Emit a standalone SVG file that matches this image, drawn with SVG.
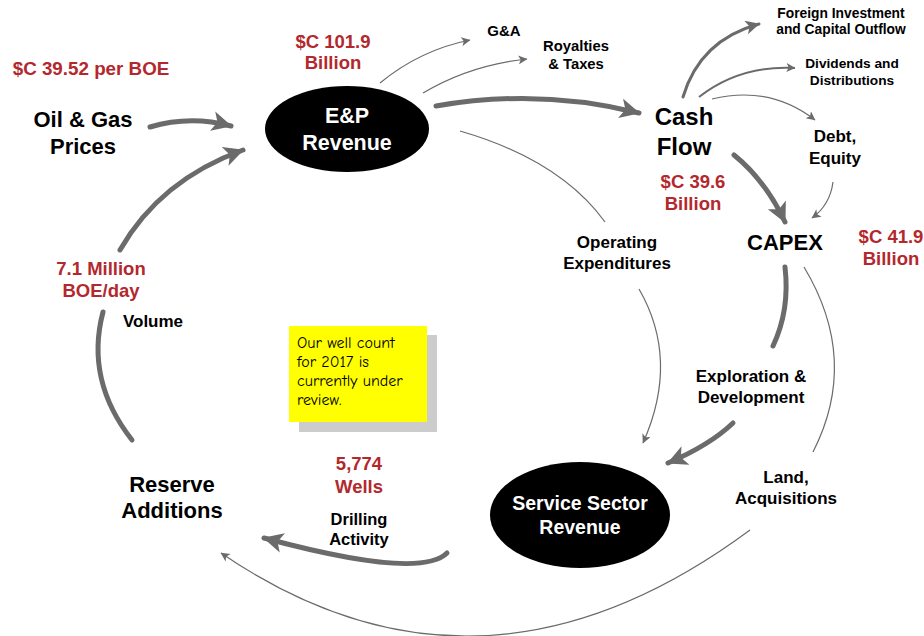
<svg xmlns="http://www.w3.org/2000/svg" width="924" height="636" viewBox="0 0 924 636">
<style>
.t{font-family:"Liberation Sans",Arial,sans-serif;font-weight:bold;fill:#000;text-anchor:middle}
.r{font-family:"Liberation Sans",Arial,sans-serif;font-weight:bold;fill:#b3282d;text-anchor:middle;font-size:18.5px}
.w{font-family:"Liberation Sans",Arial,sans-serif;font-weight:bold;fill:#fff;text-anchor:middle}
.note{font-family:"Comic Sans MS","Comic Neue",cursive,sans-serif;font-size:16px;fill:#000}
.thick{fill:none;stroke:#6b6b6b;stroke-width:5;stroke-linecap:round}
.med{fill:none;stroke:#6b6b6b;stroke-width:3;stroke-linecap:round}
.thin{fill:none;stroke:#6b6b6b;stroke-width:1.2}
</style>
<defs>
<marker id="big" viewBox="0 0 20 20" refX="19" refY="10" markerWidth="22" markerHeight="20" orient="auto" markerUnits="userSpaceOnUse"><path d="M0,0 L20,10 L0,20 L5,10 z" fill="#6b6b6b"/></marker>
<marker id="mid" viewBox="0 0 20 20" refX="19" refY="10" markerWidth="16" markerHeight="14" orient="auto" markerUnits="userSpaceOnUse"><path d="M0,0 L20,10 L0,20 L5,10 z" fill="#6b6b6b"/></marker>
<marker id="sm" viewBox="0 0 20 20" refX="19" refY="10" markerWidth="10" markerHeight="9" orient="auto" markerUnits="userSpaceOnUse"><path d="M0,0 L20,10 L0,20 L5,10 z" fill="#6b6b6b"/></marker>
</defs>
<rect width="924" height="636" fill="#fff"/>

<g id="connectors">
<path class="thick" d="M150,127 Q190,115 231,126" marker-end="url(#big)"/>
<path class="thick" d="M120,250 Q160,180 243,150" marker-end="url(#big)"/>
<path class="thick" d="M132,440 Q85,380 103,312"/>
<path class="thin" d="M380,83 Q420,50 470,40" marker-end="url(#sm)"/>
<path class="thin" d="M423,93 Q470,65 527,59" marker-end="url(#sm)"/>
<path class="thick" d="M436,106 Q540,88 639,113" marker-end="url(#big)"/>
<path class="med" d="M683,97 Q700,40 759,24" marker-end="url(#mid)"/>
<path class="thin" style="stroke-width:2" d="M699,97 Q740,65 795,68" marker-end="url(#sm)"/>
<path class="thin" d="M712,99 Q770,85 815,120" marker-end="url(#sm)"/>
<path class="thin" d="M833,182 Q830,205 812,218" marker-end="url(#sm)"/>
<path class="thick" d="M734,155 Q765,180 785,222" marker-end="url(#big)"/>
<path class="thin" d="M460,131 Q560,160 605,222"/>
<path class="thin" d="M639,289 Q680,360 643,443" marker-end="url(#sm)"/>
<path class="thick" d="M785,267 Q790,310 773,346"/>
<path class="thick" d="M733,423 Q710,445 668,463" marker-end="url(#big)"/>
<path class="thin" d="M804,267 Q860,360 813,452"/>
<path class="thin" d="M750,530 Q480,730 221,553" marker-end="url(#sm)"/>
<path class="thick" d="M447,553 Q420,580 264,538" marker-end="url(#big)"/>
</g>

<g id="price-label"><text class="r" x="91" y="75" style="font-size:18.8px">$C 39.52 per BOE</text></g>
<g id="oil-gas"><text class="t" x="83" y="127" font-size="22">Oil &amp; Gas</text><text class="t" x="83" y="154" font-size="22">Prices</text></g>

<g id="ep-revenue">
<ellipse cx="347" cy="129" rx="82" ry="43" fill="#000"/>
<text class="w" x="347" y="123" font-size="21.5">E&amp;P</text>
<text class="w" x="347" y="150" font-size="21.5">Revenue</text>
</g>
<g id="ep-value"><text class="r" x="333" y="48">$C 101.9</text><text class="r" x="333" y="69">Billion</text></g>

<g id="ga"><text class="t" x="504" y="36" font-size="15">G&amp;A</text></g>
<g id="royalties"><text class="t" x="576" y="51" font-size="14.8">Royalties</text><text class="t" x="576" y="69" font-size="14.8">&amp; Taxes</text></g>

<g id="cash-flow"><text class="t" x="684" y="125" font-size="24">Cash</text><text class="t" x="684" y="155" font-size="24">Flow</text></g>
<g id="cash-value"><text class="r" x="693" y="188">$C 39.6</text><text class="r" x="693" y="210">Billion</text></g>

<g id="foreign"><text class="t" x="841" y="18" font-size="13.8">Foreign Investment</text><text class="t" x="841" y="34" font-size="13.8">and Capital Outflow</text></g>
<g id="dividends"><text class="t" x="852" y="68" font-size="13.7">Dividends and</text><text class="t" x="852" y="85" font-size="13.7">Distributions</text></g>
<g id="debt"><text class="t" x="835" y="142" font-size="17">Debt,</text><text class="t" x="835" y="164" font-size="17">Equity</text></g>

<g id="capex"><text class="t" x="785" y="250" font-size="22">CAPEX</text></g>
<g id="capex-value"><text class="r" x="891" y="243">$C 41.9</text><text class="r" x="891" y="265">Billion</text></g>

<g id="opex"><text class="t" x="617" y="248" font-size="17">Operating</text><text class="t" x="617" y="269" font-size="17">Expenditures</text></g>
<g id="exploration"><text class="t" x="751" y="382" font-size="17">Exploration &amp;</text><text class="t" x="751" y="403" font-size="17">Development</text></g>
<g id="land"><text class="t" x="786" y="483" font-size="17">Land,</text><text class="t" x="786" y="504" font-size="17">Acquisitions</text></g>

<g id="service-revenue">
<ellipse cx="580" cy="515" rx="90" ry="53" fill="#000"/>
<text class="w" x="580" y="510" font-size="19.5">Service Sector</text>
<text class="w" x="580" y="534" font-size="19.5">Revenue</text>
</g>

<g id="wells"><text class="r" x="359" y="470">5,774</text><text class="r" x="359" y="493">Wells</text></g>
<g id="drilling"><text class="t" x="359" y="525" font-size="16.5">Drilling</text><text class="t" x="359" y="545" font-size="16.5">Activity</text></g>

<g id="reserve"><text class="t" x="172" y="492" font-size="22">Reserve</text><text class="t" x="172" y="518" font-size="22">Additions</text></g>

<g id="volume-value"><text class="r" x="101" y="275">7.1 Million</text><text class="r" x="101" y="297">BOE/day</text></g>
<g id="volume"><text class="t" x="153" y="327" font-size="17">Volume</text></g>

<g id="note">
<rect x="299" y="335" width="138" height="97" fill="#cccccc"/>
<rect x="289" y="326" width="138" height="96" fill="#ffff00"/>
<text class="note" x="297" y="348">Our well count</text>
<text class="note" x="297" y="367">for 2017 is</text>
<text class="note" x="297" y="386">currently under</text>
<text class="note" x="297" y="405">review.</text>
</g>
</svg>
